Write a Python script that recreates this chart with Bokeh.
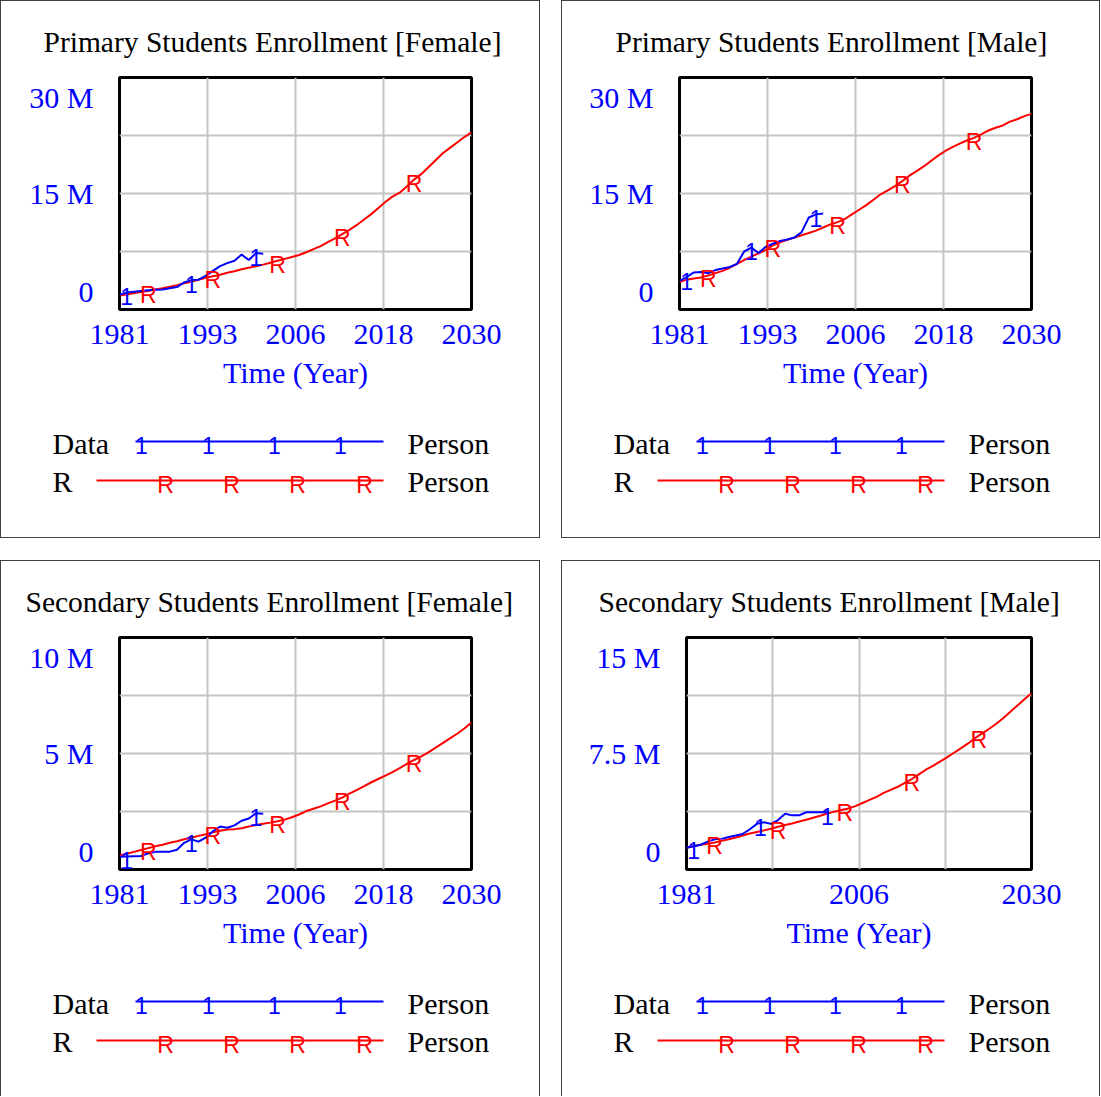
import numpy as np
from bokeh.plotting import figure
from bokeh.layouts import column, row
from bokeh.models import Range1d, FixedTicker, Title
from bokeh.core.properties import value
from bokeh.embed import file_html
from bokeh.resources import INLINE

# ---------------- data (values in millions of persons) ----------------
SCALE = 1_000_000
years_model = list(range(1981, 2031))
years_data = list(range(1981, 2002))

primary_female_r = [1.8, 1.95, 2.1, 2.25, 2.4, 2.6, 2.75, 2.95, 3.15, 3.4,
                    3.6, 3.85, 4.1, 4.3, 4.5, 4.75, 4.95, 5.2, 5.4, 5.6,
                    5.8, 6.05, 6.3, 6.55, 6.8, 7.05, 7.4, 7.8, 8.2, 8.7,
                    9.2, 9.75, 10.3, 10.9, 11.6, 12.3, 13.1, 13.9, 14.6, 15.1,
                    15.9, 16.8, 17.5, 18.4, 19.3, 20.2, 20.9, 21.6, 22.3, 22.9]
primary_female_data = [1.9, 2.2, 2.3, 2.4, 2.5, 2.55, 2.6, 2.75, 2.9, 3.5,
                       3.8, 3.85, 4.35, 5.0, 5.6, 6.0, 6.3, 7.1, 6.4, 7.3, 7.2]

primary_male_r = [3.6, 3.85, 4.0, 4.15, 4.4, 4.7, 5.0, 5.4, 5.9, 6.4,
                  6.85, 7.25, 7.7, 8.3, 8.7, 9.0, 9.3, 9.6, 9.9, 10.2,
                  10.6, 11.0, 11.3, 11.7, 12.3, 12.9, 13.5, 14.2, 14.9, 15.4,
                  15.95, 16.6, 17.3, 17.9, 18.5, 19.2, 19.9, 20.5, 21.0, 21.45,
                  21.85, 22.2, 22.65, 23.15, 23.5, 23.8, 24.3, 24.6, 25.0, 25.3]
primary_male_data = [3.7, 4.2, 4.8, 4.85, 4.7, 5.1, 5.3, 5.5, 5.9, 7.5,
                     8.0, 7.3, 8.1, 8.5, 8.85, 9.05, 9.3, 10.0, 11.9, 12.3, 12.4]

secondary_female_r = [0.6, 0.68, 0.76, 0.84, 0.92, 1.0, 1.07, 1.15, 1.22, 1.3,
                      1.37, 1.45, 1.52, 1.6, 1.67, 1.72, 1.74, 1.78, 1.85, 1.92,
                      1.97, 2.02, 2.08, 2.15, 2.25, 2.37, 2.52, 2.62, 2.72, 2.85,
                      2.97, 3.1, 3.27, 3.42, 3.58, 3.75, 3.9, 4.05, 4.2, 4.37,
                      4.55, 4.72, 4.88, 5.05, 5.25, 5.45, 5.65, 5.85, 6.08, 6.33]
secondary_female_data = [0.55, 0.56, 0.57, 0.58, 0.7, 0.76, 0.76, 0.77, 0.85, 1.15,
                         1.3, 1.2, 1.37, 1.65, 1.85, 1.8, 1.9, 2.1, 2.2, 2.42, 2.4]

secondary_male_r = [1.4, 1.5, 1.6, 1.67, 1.75, 1.85, 1.95, 2.07, 2.2, 2.33,
                    2.43, 2.53, 2.63, 2.76, 2.88, 2.98, 3.1, 3.22, 3.35, 3.48,
                    3.62, 3.74, 3.85, 3.95, 4.1, 4.3, 4.5, 4.7, 4.95, 5.15,
                    5.35, 5.6, 5.85, 6.15, 6.45, 6.7, 6.98, 7.25, 7.55, 7.85,
                    8.15, 8.5, 8.8, 9.1, 9.42, 9.8, 10.2, 10.6, 11.0, 11.4]
secondary_male_data = [1.4, 1.5, 1.6, 1.8, 1.95, 1.98, 2.1, 2.2, 2.3, 2.6,
                       2.95, 3.05, 2.95, 3.2, 3.6, 3.5, 3.5, 3.7, 3.7, 3.7, 3.7]

titles = ["Primary Students Enrollment [Female]", "Primary Students Enrollment [Male]",
          "Secondary Students Enrollment [Female]", "Secondary Students Enrollment [Male]"]
y_max = [30, 30, 10, 15]
y_tick_labels = [["0", "15 M", "30 M"], ["0", "15 M", "30 M"],
                 ["0", "5 M", "10 M"], ["0", "7.5 M", "15 M"]]
x_ticks = [1981, 1993.25, 2005.5, 2017.75, 2030]
x_tick_labels = ["1981", "1993", "2006", "2018", "2030"]
x_label_index = [[0, 1, 2, 3, 4], [0, 1, 2, 3, 4], [0, 1, 2, 3, 4], [0, 2, 4]]
data_marker_years = [[1982, 1991, 2000], [1982, 1991, 2000], [1982, 1991, 2000], [1982, 1991.5, 2001]]
r_marker_years = [[1985, 1994, 2003, 2012, 2022], [1985, 1994, 2003, 2012, 2022],
                  [1985, 1994, 2003, 2012, 2022], [1985, 1994, 2003.5, 2013, 2022.5]]
x_axis_title = "Time (Year)"
legend_names = ["Data", "R"]
legend_units = ["Person", "Person"]

BLUE = "#0000FF"
RED = "#FF0000"
SERIF = "Liberation Serif"
SANS = "Liberation Sans"
FS = "30px"
MARK_FS = "23px"
MARK_DY = 4


def add_markers(p, xs, ys, marks, txt, color):
    my = list(np.interp(marks, xs, ys))
    p.text(x=marks, y=my, text=[txt] * len(marks), text_font=value(SANS),
           text_font_size=MARK_FS, text_color=color, text_align="center",
           text_baseline="alphabetic", y_offset=MARK_DY)


def make_panel(i, model, data, inner_w, left, frame_w, top, chart_h, leg_h,
               inner_left_abs, title_left_abs, bottom_border):
    ymax = y_max[i] * SCALE
    right = inner_w - left - frame_w
    p = figure(width=inner_w, height=chart_h, x_range=Range1d(1981, 2030),
               y_range=Range1d(0, ymax), min_border_left=left, min_border_right=right,
               min_border_top=top, min_border_bottom=chart_h - top - 232,
               output_backend="svg", toolbar_location=None, title=None)
    p.frame_align = False
    frame_left_abs = inner_left_abs + left
    p.add_layout(Title(text=titles[i], text_font=SERIF, text_font_size="29.5px",
                       text_font_style="normal", text_color="black", align="left",
                       offset=title_left_abs - frame_left_abs, standoff=40), "above")
    p.outline_line_color = "black"
    p.outline_line_width = 3
    p.background_fill_color = "white"
    p.border_fill_color = "white"
    # grid at quarters
    p.xgrid.ticker = FixedTicker(ticks=x_ticks[1:4])
    p.ygrid.ticker = FixedTicker(ticks=[ymax / 4, ymax / 2, 3 * ymax / 4])
    for g in (p.xgrid[0], p.ygrid[0]):
        g.grid_line_color = "#C4C4C4"
        g.grid_line_width = 2
    # x axis
    xa = p.xaxis[0]
    idx = x_label_index[i]
    xa.ticker = FixedTicker(ticks=[x_ticks[k] for k in idx])
    xa.major_label_overrides = {x_ticks[k]: x_tick_labels[k] for k in idx}
    xa.axis_label = x_axis_title
    # y axis: Vensim-style labels kept inside the range
    ya = p.yaxis[0]
    ypos = [int(round(ymax * 18 / 232)), int(round(ymax / 2)), int(round(ymax - ymax * 20 / 232))]
    ya.ticker = FixedTicker(ticks=ypos)
    ya.major_label_overrides = {ypos[k]: y_tick_labels[i][k] for k in range(3)}
    for a in (xa, ya):
        a.axis_line_color = None
        a.major_tick_line_color = None
        a.minor_tick_line_color = None
        a.major_tick_out = 0
        a.major_tick_in = 0
        a.major_label_text_font = SERIF
        a.major_label_text_font_size = FS
        a.major_label_text_color = BLUE
        a.axis_label_text_font = SERIF
        a.axis_label_text_font_size = FS
        a.axis_label_text_font_style = "normal"
        a.axis_label_text_color = BLUE
    xa.major_label_standoff = 15
    xa.axis_label_standoff = 9
    ya.major_label_standoff = 26

    xs_m = years_model
    ys_m = [v * SCALE for v in model]
    xs_d = years_data[:len(data)]
    ys_d = [v * SCALE for v in data]
    p.line(xs_m, ys_m, line_color=RED, line_width=2)
    p.line(xs_d, ys_d, line_color=BLUE, line_width=2)
    add_markers(p, xs_d, ys_d, data_marker_years[i], "1", BLUE)
    add_markers(p, xs_m, ys_m, r_marker_years[i], "R", RED)

    # legend block (Vensim style: name, sample line with markers, units)
    lg = figure(width=inner_w, height=leg_h, x_range=Range1d(0, inner_w),
                y_range=Range1d(leg_h, 0), min_border=0, x_axis_type=None,
                y_axis_type=None, output_backend="svg", toolbar_location=None)
    lg.frame_align = False
    lg.outline_line_color = None
    lg.grid.visible = False
    rows_y = [41, 80]
    text_dy = [2, 1]
    line_x = [[134, 382], [95, 382]]
    mark_x = [[140, 207, 273, 339], [164, 230, 296, 363]]
    colors = [BLUE, RED]
    mtxt = ["1", "R"]
    for r in range(2):
        lg.line(line_x[r], [rows_y[r]] * 2, line_color=colors[r], line_width=2)
        lg.text(x=mark_x[r], y=[rows_y[r]] * 4, text=[mtxt[r]] * 4, text_font=value(SANS),
                text_font_size=MARK_FS, text_color=colors[r], text_align="center",
                text_baseline="alphabetic", y_offset=MARK_DY)
        lg.text(x=[51], y=[rows_y[r] + text_dy[r]], text=[legend_names[r]], text_font=value(SERIF),
                text_font_size=FS, text_color="black", text_align="left", text_baseline="middle")
        lg.text(x=[406], y=[rows_y[r] + text_dy[r]], text=[legend_units[r]], text_font=value(SERIF),
                text_font_size=FS, text_color="black", text_align="left", text_baseline="middle")
    border = {"border": "1px solid #404040"}
    if not bottom_border:
        border["border-bottom"] = "none"
    return column(p, lg, spacing=0, styles=border)


series = [(primary_female_r, primary_female_data), (primary_male_r, primary_male_data),
          (secondary_female_r, secondary_female_data), (secondary_male_r, secondary_male_data)]

p1 = make_panel(0, *series[0], inner_w=538, left=118, frame_w=352, top=76, chart_h=399, leg_h=137,
                inner_left_abs=1, title_left_abs=43, bottom_border=True)
p2 = make_panel(1, *series[1], inner_w=537, left=117, frame_w=352, top=76, chart_h=399, leg_h=137,
                inner_left_abs=562, title_left_abs=615, bottom_border=True)
p3 = make_panel(2, *series[2], inner_w=538, left=118, frame_w=352, top=76, chart_h=399, leg_h=136,
                inner_left_abs=1, title_left_abs=25, bottom_border=False)
p4 = make_panel(3, *series[3], inner_w=537, left=124, frame_w=345, top=76, chart_h=399, leg_h=136,
                inner_left_abs=562, title_left_abs=598, bottom_border=False)

layout = column(row(p1, p2, spacing=21), row(p3, p4, spacing=21), spacing=22)
open("out.html", "w").write(file_html(layout, INLINE))
